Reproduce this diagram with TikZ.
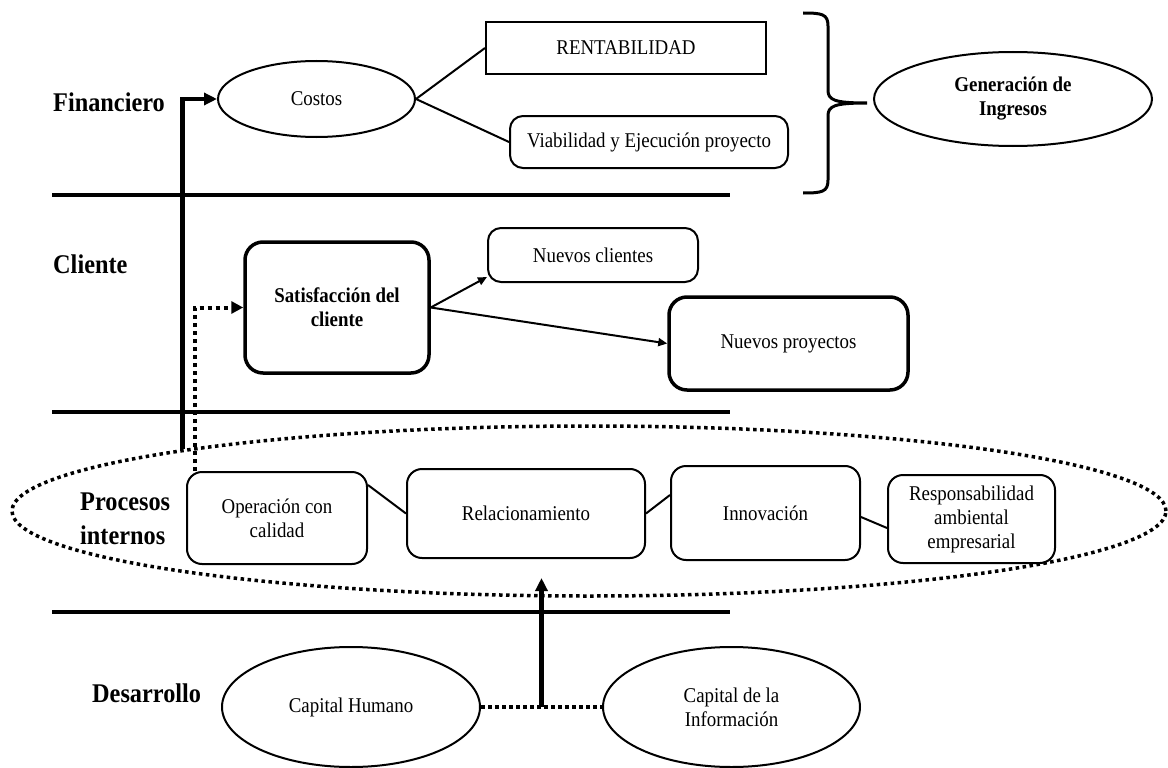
\documentclass[tikz,border=0pt]{standalone}
\usepackage{fontspec}
\setmainfont{Liberation Serif}[FakeStretch=0.9]
\usetikzlibrary{shapes.geometric,arrows.meta,calc}
\begin{document}
\begin{tikzpicture}[x=1pt,y=-1pt,
  txt/.style={font=\fontsize{21}{24}\selectfont, align=center, inner sep=0pt},
  btxt/.style={font=\fontsize{21}{24}\selectfont\bfseries, align=center, inner sep=0pt},
  lbl/.style={font=\fontsize{27}{34}\selectfont\bfseries, align=left, inner sep=0pt},
  rbox/.style={draw, rounded corners=13pt, line width=2pt},
  tbox/.style={draw, rounded corners=18pt, line width=3.5pt},
  sbox/.style={draw, line width=2pt},
  oval/.style={draw, ellipse, line width=2pt},
  sepline/.style={line width=4pt},
  conn/.style={line width=2pt},
  thinarrow/.style={line width=2pt, -{Triangle[length=9pt,width=8pt]}},
  thickarrow/.style={line width=4.5pt, -{Triangle[length=13pt,width=12pt]}},
  dotline/.style={line width=3.5pt, dash pattern=on 3.5pt off 3.5pt},
  dotarrow/.style={line width=4pt, dash pattern=on 4pt off 4pt, -{Triangle[length=12pt,width=12pt]}},
  brace/.style={line width=3pt}
]
\useasboundingbox (0,0) rectangle (1168,768);

% lane labels
\node[lbl, anchor=base west] (lfin) at (53,111) {Financiero};
\node[lbl, anchor=base west] (lcli) at (53,273) {Cliente};
\node[lbl, anchor=west] (lpro) at (80,518.5) {Procesos\\internos};
\node[lbl, anchor=base west] (ldes) at (92,702) {Desarrollo};

% separators
\draw[sepline] (52,195) -- (730,195);
\draw[sepline] (52,412) -- (730,412);
\draw[sepline] (52,612) -- (730,612);

% financiero
\node[oval, txt, minimum width=197pt, minimum height=76pt] (costos) at (316.5,99) {Costos};
\node[sbox, txt, minimum width=280pt, minimum height=52pt] (rent) at (626,48) {RENTABILIDAD};
\node[rbox, txt, minimum width=278pt, minimum height=52pt] (viab) at (649,142) {Viabilidad y Ejecución proyecto};
\node[oval, btxt, minimum width=278pt, minimum height=94pt] (gen) at (1013,99) {Generación de\\Ingresos};
\draw[conn] (costos.east) -- (rent.west);
\draw[conn] (costos.east) -- (viab.west);
\draw[brace] (803,13) .. controls (822,13) and (828,14) .. (828,26) -- (828,90)
  .. controls (828,100) and (834,103) .. (867,103)
  .. controls (834,103) and (828,106) .. (828,116) -- (828,180)
  .. controls (828,192) and (822,193) .. (803,193);

% cliente
\node[tbox, btxt, minimum width=184pt, minimum height=131pt] (sat) at (337,307.5) {Satisfacción del\\cliente};
\node[rbox, txt, minimum width=210pt, minimum height=54pt] (nc) at (593,255) {Nuevos clientes};
\node[tbox, txt, minimum width=239pt, minimum height=93pt] (np) at (788.5,343.5) {Nuevos proyectos};
\draw[thinarrow] (sat.east) -- ([yshift=-22pt]nc.west);
\draw[thinarrow] (sat.east) -- (np.west);

% procesos internos
\node[draw, ellipse, dotline, minimum width=1154pt, minimum height=170pt, inner sep=0pt] (proc) at (589,511) {};
\node[rbox, txt, rounded corners=15pt, minimum width=180pt, minimum height=92pt] (op) at (277,518) {Operación con\\calidad};
\node[rbox, txt, rounded corners=15pt, minimum width=238pt, minimum height=89pt] (rel) at (526,513.5) {Relacionamiento};
\node[rbox, txt, rounded corners=15pt, minimum width=189pt, minimum height=94pt] (inn) at (765.5,513) {Innovación};
\node[rbox, txt, rounded corners=15pt, minimum width=167pt, minimum height=88pt] (resp) at (971.5,519) {Responsabilidad\\ambiental\\empresarial};
\draw[conn] ([yshift=33pt]op.east) -- (rel.west);
\draw[conn] (rel.east) -- ([yshift=18pt]inn.west);
\draw[conn] ([yshift=-4pt]inn.east) -- ([yshift=-9pt]resp.west);

% vertical links
\coordinate (fs) at (182.5,449);
\draw[thickarrow] (fs) |- (costos.west);
\draw[dotarrow] ([xshift=9pt]op.north west) |- (sat.west);

% desarrollo
\node[oval, txt, minimum width=258pt, minimum height=120pt] (ch) at (351,707) {Capital Humano};
\node[oval, txt, minimum width=257pt, minimum height=120pt] (ci) at (731.5,707) {Capital de la\\Información};
\draw[dotline] (ch.east) -- (ci.west);
\coordinate (mid) at ($(ch.east)!0.5!(ci.west)$);
\coordinate (tip) at (541.5,578);
\draw[thickarrow] (mid) -- (tip);
\end{tikzpicture}
\end{document}
